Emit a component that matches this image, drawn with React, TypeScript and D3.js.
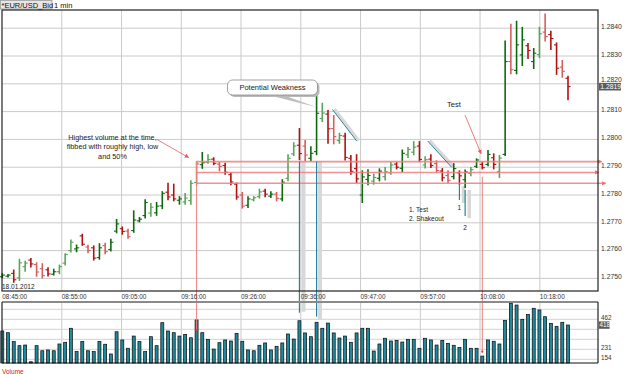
import * as d3 from 'd3'

// EUR/USD 1 min, 18.01.2012 08:45 .. 10:24
const opens = [1.27506, 1.27508, 1.27518, 1.27502, 1.27542, 1.27566, 1.2755, 1.27535, 1.27531, 1.27515, 1.27524, 1.27555, 1.276, 1.27606, 1.27653, 1.27613, 1.2761, 1.27575, 1.27618, 1.27604, 1.2767, 1.27679, 1.2767, 1.27672, 1.27707, 1.27726, 1.27735, 1.27736, 1.27761, 1.2781, 1.278, 1.27781, 1.27775, 1.2778, 1.27845, 1.27909, 1.27918, 1.27929, 1.27911, 1.27906, 1.27873, 1.27839, 1.278, 1.27763, 1.27783, 1.27794, 1.27814, 1.27796, 1.27803, 1.27786, 1.2786, 1.27948, 1.27979, 1.27976, 1.27932, 1.27956, 1.28075, 1.28091, 1.28039, 1.27996, 1.28012, 1.27932, 1.27895, 1.278, 1.27856, 1.2785, 1.2786, 1.27866, 1.2788, 1.27911, 1.27896, 1.27945, 1.27954, 1.27976, 1.27908, 1.27929, 1.27913, 1.27886, 1.2787, 1.27866, 1.2788, 1.27855, 1.27878, 1.27903, 1.2791, 1.2791, 1.27934, 1.27884, 1.27946, 1.2828, 1.28248, 1.28304, 1.28337, 1.2828, 1.28305, 1.28386, 1.28377, 1.2834, 1.2826, 1.2822]
const highs = [1.27517, 1.27514, 1.2753, 1.27569, 1.27562, 1.27572, 1.27556, 1.27553, 1.27538, 1.27533, 1.27548, 1.27589, 1.27638, 1.2762, 1.27659, 1.27619, 1.27617, 1.27625, 1.27626, 1.27641, 1.27712, 1.27685, 1.27677, 1.27743, 1.27719, 1.27783, 1.27769, 1.27773, 1.27812, 1.27842, 1.27839, 1.27794, 1.27805, 1.27851, 1.2792, 1.27953, 1.27945, 1.27934, 1.27917, 1.27914, 1.27879, 1.27843, 1.27809, 1.27794, 1.27794, 1.27821, 1.27821, 1.27812, 1.27809, 1.27855, 1.27945, 1.27988, 1.28039, 1.27996, 1.27974, 1.28158, 1.2813, 1.28104, 1.28086, 1.28022, 1.28022, 1.27942, 1.27945, 1.27887, 1.27891, 1.27875, 1.27894, 1.27899, 1.27917, 1.27917, 1.27962, 1.27971, 1.27992, 1.27992, 1.27938, 1.27945, 1.27923, 1.27895, 1.27887, 1.27913, 1.27887, 1.2789, 1.27899, 1.2793, 1.27917, 1.2796, 1.27948, 1.27942, 1.28354, 1.28414, 1.28425, 1.28403, 1.28345, 1.28327, 1.28403, 1.28451, 1.28389, 1.28347, 1.28284, 1.28227]
const lows = [1.27502, 1.27505, 1.27486, 1.27493, 1.27526, 1.27541, 1.27508, 1.27502, 1.27509, 1.27512, 1.27517, 1.27548, 1.27595, 1.27596, 1.27619, 1.27592, 1.27566, 1.27569, 1.27589, 1.27599, 1.27664, 1.27659, 1.27644, 1.27666, 1.27703, 1.27717, 1.27724, 1.27727, 1.27751, 1.27783, 1.27779, 1.27767, 1.27767, 1.27767, 1.27839, 1.27896, 1.27914, 1.27909, 1.27887, 1.27875, 1.27837, 1.27785, 1.27753, 1.27755, 1.27779, 1.27789, 1.27794, 1.27791, 1.27779, 1.27779, 1.27851, 1.27942, 1.27927, 1.27923, 1.27923, 1.27945, 1.28064, 1.27986, 1.27984, 1.27986, 1.27926, 1.27875, 1.27845, 1.27773, 1.27837, 1.27839, 1.27851, 1.27854, 1.27875, 1.27894, 1.27884, 1.27935, 1.27945, 1.2792, 1.27897, 1.27899, 1.27881, 1.27851, 1.27845, 1.27858, 1.27839, 1.27827, 1.27869, 1.27899, 1.27894, 1.27905, 1.27894, 1.27863, 1.27942, 1.28236, 1.28236, 1.28266, 1.28291, 1.28255, 1.28294, 1.28354, 1.28323, 1.28234, 1.28224, 1.28143]
const closes = [1.27512, 1.27512, 1.27495, 1.27556, 1.27555, 1.27552, 1.27523, 1.2751, 1.27516, 1.27524, 1.27542, 1.27586, 1.2763, 1.2761, 1.27623, 1.276, 1.27573, 1.2761, 1.27596, 1.2763, 1.27696, 1.27669, 1.2765, 1.2771, 1.27713, 1.27773, 1.27756, 1.2776, 1.27806, 1.27793, 1.27786, 1.27786, 1.27789, 1.27842, 1.27912, 1.27916, 1.27928, 1.27914, 1.27903, 1.27882, 1.27847, 1.27793, 1.2776, 1.27786, 1.2779, 1.27811, 1.27803, 1.27803, 1.27788, 1.27846, 1.27932, 1.27976, 1.27949, 1.27944, 1.2795, 1.28094, 1.28095, 1.28038, 1.2801, 1.28014, 1.27935, 1.27885, 1.27858, 1.27865, 1.2787, 1.27863, 1.27886, 1.27884, 1.27908, 1.279, 1.2795, 1.27964, 1.27972, 1.27928, 1.27927, 1.27906, 1.27888, 1.27862, 1.27853, 1.27895, 1.27869, 1.27883, 1.27891, 1.27926, 1.27898, 1.27946, 1.2791, 1.27933, 1.2828, 1.28251, 1.2834, 1.28358, 1.2832, 1.2831, 1.2838, 1.2837, 1.28363, 1.28256, 1.28245, 1.2819]
// G/R = strong up/down bar, g/r = weak
const shades = 'GGRggRrrRGgggGRrRGrGGRrGGGgGGRRGgggGgRrRRRrGggRGrGggRrGGgRrgRRRGGgGggRGggRgRrRrGRGgGRGRgGrGGRGgrRRrR'.split('')
const volumes = [372, 359, 290, 259, 264, 135, 259, 220, 226, 220, 272, 285, 393, 213, 290, 220, 213, 290, 270, 195, 366, 303, 239, 333, 290, 213, 328, 259, 436, 372, 359, 333, 346, 320, 457, 359, 308, 233, 282, 303, 295, 354, 293, 226, 220, 262, 280, 226, 254, 280, 349, 310, 451, 357, 328, 439, 393, 433, 357, 318, 333, 285, 357, 393, 393, 218, 272, 316, 295, 300, 287, 308, 308, 239, 316, 303, 264, 300, 277, 262, 246, 308, 239, 239, 179, 303, 293, 272, 454, 585, 572, 462, 500, 547, 534, 482, 431, 408, 439, 418]

const priceTicks = [1.284, 1.283, 1.282, 1.281, 1.28, 1.279, 1.278, 1.277, 1.276, 1.275]
const timeTickIdx = [-0.05, 10.41, 20.87, 31.32, 41.78, 52.24, 62.7, 73.16, 83.61, 94.07]
const timeLabels = ['08:45:00', '08:55:00', '09:05:00', '09:16:00', '09:26:00', '09:36:00', '09:47:00', '09:57:00', '10:08:00', '10:18:00']
const volGrid = [154, 231, 308, 385, 462, 539]
const volLabels = [462, 231, 154]
const lastPrice = 1.2819
const lastVolume = 418
// fib of the high volume bar: high, 50%, low
const fibLevels = [1.2792, 1.27881, 1.27842]
const fibEnds = [601.5, 598.5, 605.5]

const PX0 = 2, PX1 = 598
const PY0 = 10, PY1 = 291
const VY0 = 302, VY1 = 363
const FONT = 'Liberation Sans, Arial, sans-serif'

const colors: Record<string, string> = { G: '#0f680f', g: '#5aa35a', R: '#b01212', r: '#d65e5e' }

export default function App() {
  const x = d3.scaleLinear().domain([0, 99]).range([2.3, 568])
  const y = d3.scaleLinear().domain([1.275, 1.284]).range([278.4, 28.2])
  const v = d3.scaleLinear().domain([231, 462]).range([349.3, 319.3])

  const red = '#ef7f7f'
  const blue = '#2682a0'
  const shadow = '#d8d8d8'
  const boxTop = y(lastPrice) - 3.7

  return (
    <svg width={625} height={375} style={{ position: 'fixed', left: 0, top: 0, background: '#fff' }} fontFamily={FONT}>
      <defs>
        <marker id="arr" viewBox="0 0 6 6" refX="5" refY="3" markerUnits="userSpaceOnUse" markerWidth="4.5" markerHeight="4.5" orient="auto">
          <path d="M0,0 L6,3 L0,6 z" fill="#e85a5a" />
        </marker>
      </defs>

      {/* title */}
      <rect x={0.5} y={0.5} width={51.5} height={8.5} fill="#e6e6e6" stroke="#9a9a9a" strokeWidth={0.8} />
      <text x={1.5} y={7.6} fontSize={7.5} fill="#111">*EUR/USD_Bid</text>
      <text x={54} y={7.6} fontSize={7.5} fill="#111">1 min</text>

      {/* price grid */}
      {priceTicks.map(p => (
        <line key={'pg' + p} x1={PX0} x2={PX1} y1={y(p)} y2={y(p)} stroke="#cacaca" strokeWidth={1} />
      ))}
      {timeTickIdx.slice(1).map(t => (
        <g key={'vg' + t}>
          <line x1={x(t)} x2={x(t)} y1={PY0} y2={PY1} stroke="#cacaca" strokeWidth={1} />
          <line x1={x(t)} x2={x(t)} y1={VY0} y2={VY1} stroke="#cacaca" strokeWidth={1} />
        </g>
      ))}
      {volGrid.map(g => (
        <line key={'vgl' + g} x1={PX0} x2={PX1} y1={v(g)} y2={v(g)} stroke="#d2d2d2" strokeWidth={1} />
      ))}

      {/* gray shadows of the blue markers */}
      <rect x={301.5} y={161.7} width={4} height={150} fill={shadow} />
      <rect x={318} y={161.7} width={4} height={157.5} fill={shadow} />
      <rect x={461.8} y={186} width={3.5} height={17} fill={shadow} />
      <rect x={467.5} y={190} width={3.5} height={28} fill={shadow} />
      <line x1={334.5} y1={109} x2={358.7} y2={140.5} stroke={shadow} strokeWidth={3} />
      <line x1={429.7} y1={140.5} x2={453.7} y2={166.8} stroke={shadow} strokeWidth={3} />

      {/* OHLC bars */}
      {opens.map((o, i) => {
        const cx = x(i)
        const col = colors[shades[i]]
        return (
          <g key={'b' + i} stroke={col} strokeWidth={1.6}>
            <line x1={cx} x2={cx} y1={y(highs[i]) - 0.5} y2={y(lows[i]) + 0.5} />
            <line x1={cx - 2.6} x2={cx} y1={y(o)} y2={y(o)} strokeWidth={1.1} />
            <line x1={cx} x2={cx + 2.6} y1={y(closes[i])} y2={y(closes[i])} strokeWidth={1.1} />
          </g>
        )
      })}

      {/* volume bars */}
      {volumes.map((vol, i) => (
        <rect key={'v' + i} x={x(i) - 1.5} y={v(vol)} width={3} height={VY1 - v(vol)} fill="#1d8a9e" stroke="#0a0a0a" strokeWidth={0.7} />
      ))}

      {/* fib lines off the high volume bar */}
      {fibLevels.map((f, k) => (
        <line key={'fib' + k} x1={x(34)} x2={fibEnds[k]} y1={y(f)} y2={y(f)} stroke={red} strokeWidth={1.6} opacity={0.85} markerEnd="url(#arr)" />
      ))}
      <line x1={x(34)} x2={x(34)} y1={y(fibLevels[0])} y2={330} stroke={red} strokeWidth={1} />
      <circle cx={x(34)} cy={330} r={1.1} fill="#e23b3b" />
      <line x1={x(84)} x2={x(84)} y1={176.7} y2={351.7} stroke={red} strokeWidth={1} />
      <circle cx={x(84)} cy={351.7} r={1.1} fill="#e23b3b" />

      {/* blue markers */}
      <line x1={x(52)} x2={x(52)} y1={y(fibLevels[0])} y2={312.7} stroke={blue} strokeWidth={1.2} />
      <line x1={x(55)} x2={x(55)} y1={y(fibLevels[0])} y2={316.7} stroke={blue} strokeWidth={1.2} />
      <line x1={x(80)} x2={x(80)} y1={184} y2={200} stroke={blue} strokeWidth={1.2} />
      <line x1={x(81)} x2={x(81)} y1={190} y2={216} stroke={blue} strokeWidth={1.2} />
      <line x1={332.5} y1={109.5} x2={356.7} y2={141} stroke={blue} strokeWidth={1} />
      <line x1={427.7} y1={141} x2={451.7} y2={167.3} stroke={blue} strokeWidth={1} />

      {/* annotations */}
      <g fontSize={7.3} fill="#222" textAnchor="middle">
        <text x={112.5} y={140}>Highest volume at the time,</text>
        <text x={112.5} y={149.3}>fibbed with roughly high, low</text>
        <text x={112.5} y={158.6}>and 50%</text>
      </g>
      <line x1={157} y1={139.5} x2={188.5} y2={157.5} stroke="#e85a5a" strokeWidth={0.8} markerEnd="url(#arr)" />

      <path d="M268,95 L316,107 L283,95 Z" fill="#bdbdbd" />
      <rect x={229.5} y={82} width={90} height={15} rx={5} fill="#b9b9b9" />
      <rect x={227.5} y={80} width={90} height={15} rx={5} fill="#fff" stroke="#8a8a8a" strokeWidth={0.8} />
      <text x={272.5} y={90.3} fontSize={7.5} fill="#222" textAnchor="middle">Potential Weakness</text>

      <text x={447} y={106.5} fontSize={7.5} fill="#222">Test</text>
      <line x1={465} y1={115} x2={481} y2={153.5} stroke="#e85a5a" strokeWidth={0.8} markerEnd="url(#arr)" />

      <g fontSize={6.5} fill="#222">
        <text x={409} y={212.3}>1. Test</text>
        <text x={409} y={220.6}>2. Shakeout</text>
        <text x={457.5} y={209.6}>1</text>
        <text x={463.3} y={230}>2</text>
      </g>

      {/* price panel frame */}
      <rect x={PX0} y={PY0} width={PX1 - PX0} height={PY1 - PY0} fill="none" stroke="#222" strokeWidth={1.2} />
      <text x={2} y={289} fontSize={6.5} fill="#222">18.01.2012</text>

      {/* price axis; the label next to the last price box sits just above it */}
      {priceTicks.map(p => {
        const near = Math.abs(y(p) - y(lastPrice)) < 8
        return (
          <text key={'pl' + p} x={601} y={near ? boxTop - 0.4 : y(p) + 0.8} fontSize={6.8} fill="#333">{d3.format('.4f')(p)}</text>
        )
      })}
      <rect x={599} y={boxTop} width={22} height={7.6} fill="#5c5c5c" />
      <text x={600.3} y={y(lastPrice) + 2.5} fontSize={6.8} fill="#fff">{d3.format('.4f')(lastPrice)}</text>

      {/* time axis */}
      {timeTickIdx.map((t, k) => (
        <text key={'tl' + k} x={Math.max(x(t), 2.3)} y={299.3} fontSize={6.4} fill="#333">{timeLabels[k]}</text>
      ))}

      {/* volume panel frame */}
      <line x1={PX0} x2={PX1} y1={VY0} y2={VY0} stroke="#8a8a8a" strokeWidth={2} />
      <line x1={PX0} x2={PX1} y1={VY1} y2={VY1} stroke="#111" strokeWidth={1.2} />
      <line x1={PX0} x2={PX0} y1={VY0} y2={VY1} stroke="#222" strokeWidth={1.2} />
      <line x1={PX1} x2={PX1} y1={VY0} y2={VY1} stroke="#222" strokeWidth={1.2} />
      {volLabels.map(l => (
        <text key={'vl' + l} x={601} y={v(l) + 0.3} fontSize={6.3} fill="#333">{l}</text>
      ))}
      <rect x={598.6} y={v(lastVolume) - 3.6} width={11} height={7.4} fill="#5c5c5c" />
      <text x={599.6} y={v(lastVolume) + 2.3} fontSize={6.3} fill="#fff">{lastVolume}</text>
      <text x={2} y={373.5} fontSize={6.5} fill="#e02020">Volume</text>
    </svg>
  )
}
